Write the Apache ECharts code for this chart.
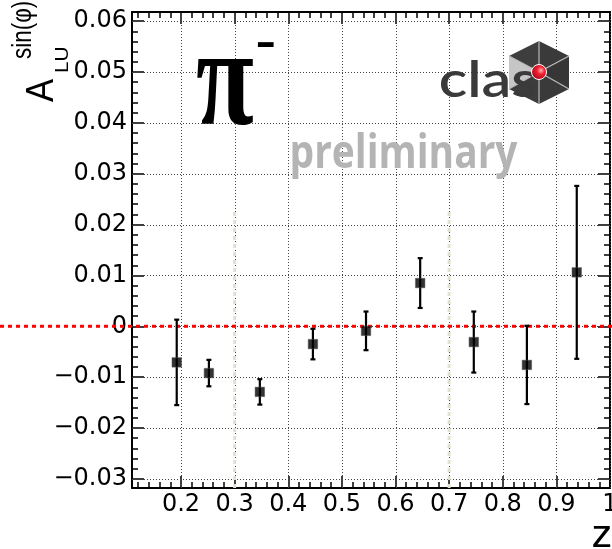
<!DOCTYPE html>
<html>
<head>
<meta charset="utf-8">
<script src="https://cdn.jsdelivr.net/npm/echarts@6/dist/echarts.min.js"></script>
<style>
  html, body { margin: 0; padding: 0; background: #fff; }
  #chart { width: 612px; height: 549px; }
</style>
</head>
<body>
<div id="chart"></div>
<script>
// Beam-spin asymmetry A_LU^sin(phi) for pi- versus z
const zValues    = [0.192, 0.252, 0.347, 0.446, 0.545, 0.646, 0.746, 0.845, 0.938];
const asymValues = [-0.0071, -0.0092, -0.0129, -0.0035, -0.0009, 0.0085, -0.0031, -0.0076, 0.0106];
const asymErrors = [0.0084, 0.0026, 0.0025, 0.0030, 0.0038, 0.0049, 0.0060, 0.0077, 0.0170];

// Axis ranges and tick labels
const xRange = [0.1086, 1.0];
const yRange = [-0.0318, 0.0618];
const xTickValues = [0.2, 0.3, 0.4, 0.5, 0.6, 0.7, 0.8, 0.9, 1.0];
const xTickLabels = ['0.2', '0.3', '0.4', '0.5', '0.6', '0.7', '0.8', '0.9', '1'];
const yTickValues = [-0.03, -0.02, -0.01, 0, 0.01, 0.02, 0.03, 0.04, 0.05, 0.06];
const yTickLabels = ['\u22120.03', '\u22120.02', '\u22120.01', '0', '0.01', '0.02', '0.03', '0.04', '0.05', '0.06'];

// Kinematic bin boundaries marked with light dotted lines
const binEdges = [0.3, 0.7];
const binEdgeTop = 0.0228;

// Minor ticks: five subdivisions between major ticks
function minorTicks(start, end, step, majors) {
  const out = [];
  for (let v = start; v <= end + step / 2; v += step) {
    const r = Math.round(v * 100000) / 100000;
    if (!majors.some(m => Math.abs(m - r) < step / 10)) out.push(r);
  }
  return out;
}
const xMinorValues = minorTicks(0.12, 0.98, 0.02, xTickValues);
const yMinorValues = minorTicks(-0.030, 0.060, 0.002, yTickValues);

function labelFor(values, labels) {
  return v => {
    let best = 0;
    values.forEach((t, i) => { if (Math.abs(t - v) < Math.abs(values[best] - v)) best = i; });
    return labels[best];
  };
}

const tickFont = { color: '#000', fontFamily: 'DejaVu Sans', fontSize: 24 };

function axis(kind, position, ticks, len, withLine, withLabels) {
  const isX = kind === 'x';
  return {
    type: 'value',
    min: isX ? xRange[0] : yRange[0],
    max: isX ? xRange[1] : yRange[1],
    position: position,
    axisLine: { show: withLine, onZero: false, lineStyle: { color: '#000', width: 2 } },
    axisTick: { show: true, inside: true, length: len, customValues: ticks,
                lineStyle: { color: '#000', width: 1.5 } },
    axisLabel: withLabels ? Object.assign({
      show: true,
      customValues: ticks,
      margin: 5,
      hideOverlap: false,
      alignMinLabel: isX ? 'center' : null,
      alignMaxLabel: isX ? 'center' : null,
      formatter: isX ? labelFor(xTickValues, xTickLabels) : labelFor(yTickValues, yTickLabels)
    }, tickFont) : { show: false },
    splitLine: { show: false },
    minorTick: { show: false },
    minorSplitLine: { show: false }
  };
}

const points = zValues.map((z, i) => [z, asymValues[i], asymErrors[i]]);

const chart = echarts.init(document.getElementById('chart'), null, { renderer: 'canvas' });

const option = {
  animation: false,
  backgroundColor: '#fff',
  grid: { left: 132, right: 2, top: 12, bottom: 61, containLabel: false, outerBoundsMode: 'none' },
  xAxis: [
    axis('x', 'bottom', xTickValues, 12, true, true),
    axis('x', 'bottom', xMinorValues, 6, false, false),
    axis('x', 'top', xTickValues, 12, true, false),
    axis('x', 'top', xMinorValues, 6, false, false)
  ],
  yAxis: [
    axis('y', 'left', yTickValues, 12, true, true),
    axis('y', 'left', yMinorValues, 6, false, false),
    axis('y', 'right', yTickValues, 12, true, false),
    axis('y', 'right', yMinorValues, 6, false, false)
  ],
  series: [
    {
      // vertical dotted grid lines at the major z ticks
      type: 'custom', z: 1, silent: true,
      data: xTickValues.map(v => [v, 0]),
      renderItem: (params, api) => {
        const v = api.value(0);
        const p0 = api.coord([v, yRange[0]]), p1 = api.coord([v, yRange[1]]);
        const x = Math.round(p0[0]) + 0.5;
        return { type: 'line', shape: { x1: x, y1: p0[1], x2: x, y2: p1[1] },
                 style: { stroke: '#444', lineWidth: 1, lineDash: [1, 2] } };
      }
    },
    {
      // horizontal dotted grid lines at the major asymmetry ticks
      type: 'custom', z: 1, silent: true,
      data: yTickValues.map(v => [xRange[0], v]),
      renderItem: (params, api) => {
        const v = api.value(1);
        const p0 = api.coord([xRange[0], v]), p1 = api.coord([xRange[1], v]);
        const y = Math.round(p0[1]) + 0.5;
        return { type: 'line', shape: { x1: p0[0], y1: y, x2: p1[0], y2: y },
                 style: { stroke: '#444', lineWidth: 1, lineDash: [1, 2] } };
      }
    },
    {
      // bin boundaries
      type: 'custom', z: 1, silent: true,
      data: binEdges.map(v => [v, binEdgeTop]),
      renderItem: (params, api) => {
        const p0 = api.coord([api.value(0), yRange[0]]), p1 = api.coord([api.value(0), api.value(1)]);
        return { type: 'line', shape: { x1: p0[0], y1: p0[1], x2: p1[0], y2: p1[1] },
                 style: { stroke: '#e2e0d2', lineWidth: 3, lineDash: [4, 4] } };
      }
    },
    {
      // statistical error bars
      type: 'custom', z: 3, silent: true,
      data: points,
      encode: { x: 0, y: 1 },
      renderItem: (params, api) => {
        const x = api.value(0), y = api.value(1), e = api.value(2);
        const top = api.coord([x, y + e]), bot = api.coord([x, y - e]);
        const cap = 2.5;
        const st = { stroke: '#000', lineWidth: 2.2 };
        return { type: 'group', children: [
          { type: 'line', shape: { x1: top[0], y1: top[1], x2: bot[0], y2: bot[1] }, style: st },
          { type: 'line', shape: { x1: top[0] - cap, y1: top[1], x2: top[0] + cap, y2: top[1] }, style: st },
          { type: 'line', shape: { x1: bot[0] - cap, y1: bot[1], x2: bot[0] + cap, y2: bot[1] }, style: st }
        ] };
      }
    },
    {
      type: 'scatter', z: 4, silent: true,
      symbol: 'rect', symbolSize: 9.5,
      itemStyle: { color: '#000', borderColor: '#555', borderWidth: 0.6 },
      data: points.map(p => [p[0], p[1]])
    }
  ]
};

chart.setOption(option);

// Fit a text's inked glyph box into a given screen rectangle
const measureCtx = document.createElement('canvas').getContext('2d');
function fitText(text, font, fill, box, rotated) {
  measureCtx.font = font;
  measureCtx.textBaseline = 'middle';
  measureCtx.textAlign = 'left';
  const m = measureCtx.measureText(text);
  const L = m.actualBoundingBoxLeft, R = m.actualBoundingBoxRight;
  const A = m.actualBoundingBoxAscent, D = m.actualBoundingBoxDescent;
  const [x0, y0, x1, y1] = box;
  let px, py, sx, sy;
  if (!rotated) {
    sx = (x1 - x0) / (L + R); sy = (y1 - y0) / (A + D);
    px = x0 + sx * L; py = y0 + sy * A;
  } else {
    sy = (x1 - x0) / (A + D); sx = (y1 - y0) / (L + R);
    px = x0 + sy * A; py = y1 - sx * L;
  }
  return {
    type: 'text', x: px, y: py, scaleX: sx, scaleY: sy,
    rotation: rotated ? Math.PI / 2 : 0, z: 5, silent: true,
    style: { text: text, font: font, fill: fill,
             align: 'left', verticalAlign: 'middle',
             textAlign: 'left', textVerticalAlign: 'middle' }
  };
}

const yZero = chart.convertToPixel({ yAxisIndex: 0 }, 0);

// CLAS logo: hexagonal cube with a red sphere at its centre
const C = [539, 72];
const hex = { T: [539, 41], UR: [569, 56], LR: [569, 89], B: [539, 104], LL: [509, 89], UL: [509, 56] };
function tri(a, b, color) {
  return { type: 'polygon', z: 5, silent: true, shape: { points: [C, a, b] }, style: { fill: color } };
}
function spoke(p) {
  return { type: 'line', z: 6, silent: true, shape: { x1: C[0], y1: C[1], x2: p[0], y2: p[1] },
           style: { stroke: '#b8b8b8', lineWidth: 1.2 } };
}

chart.setOption({
  graphic: [
    // zero reference line
    { type: 'line', z: 2, silent: true,
      shape: { x1: 0, y1: yZero, x2: 612, y2: yZero },
      style: { stroke: '#ff0000', lineWidth: 3, lineDash: [4, 4] } },

    // axis titles
    fitText('A', "36px 'Liberation Sans'", '#000', [25, 79, 53, 102], true),
    fitText('LU', "20px 'Liberation Sans'", '#000', [55, 48, 68, 72], true),
    fitText('sin(\u03c6)', "22px 'Liberation Sans'", '#000', [10, 2, 37, 59], true),
    fitText('z', "30px 'Liberation Sans'", '#000', [593, 526, 611, 547], false),

    // particle label
    fitText('\u03c0', "bold 100px 'Liberation Serif'", '#000', [197, 59, 253, 125], false),
    fitText('-', "bold 40px 'Liberation Sans'", '#000', [257, 42, 274, 47], false),

    // preliminary stamp
    fitText('preliminary', "bold 48px 'Open Sans'", '#b4b4b4', [292, 132, 518, 180], false),

    // logo
    tri(hex.UL, hex.T, '#3e3e3e'),
    tri(hex.T, hex.UR, '#3a3a3a'),
    tri(hex.UR, hex.LR, '#363636'),
    tri(hex.LR, hex.B, '#3a3a3a'),
    tri(hex.B, hex.LL, '#3c3c3c'),
    tri(hex.LL, hex.UL, '#c6c6c6'),
    spoke(hex.T), spoke(hex.UR), spoke(hex.LR), spoke(hex.B), spoke(hex.LL), spoke(hex.UL),
    Object.assign(fitText('clas', "600 48px 'Lato'", '#3a3a3a', [440, 60, 536, 97], false), { z: 7 }),
    { type: 'circle', z: 8, silent: true, shape: { cx: C[0], cy: C[1], r: 7.5 },
      style: { fill: { type: 'radial', x: 0.62, y: 0.4, r: 0.7,
                       colorStops: [{ offset: 0, color: '#ffb0b0' }, { offset: 0.35, color: '#ee2233' },
                                    { offset: 1, color: '#a00010' }] },
               stroke: '#ffffff', lineWidth: 1 } }
  ]
});
</script>
</body>
</html>
